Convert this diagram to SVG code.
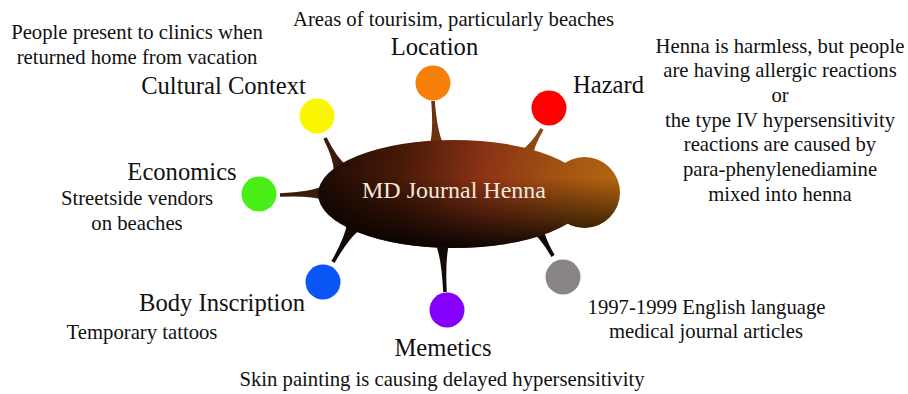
<svg xmlns="http://www.w3.org/2000/svg" width="908" height="394" viewBox="0 0 908 394">
  <defs>
    <linearGradient id="bodyH" gradientUnits="userSpaceOnUse" x1="318" y1="0" x2="622" y2="0">
      <stop offset="0" stop-color="#1c0a04"/>
      <stop offset="0.28" stop-color="#4a1a08"/>
      <stop offset="0.55" stop-color="#8e3416"/>
      <stop offset="0.78" stop-color="#a35212"/>
      <stop offset="1" stop-color="#b4680e"/>
    </linearGradient>
    <linearGradient id="bodyV" gradientUnits="userSpaceOnUse" x1="0" y1="140" x2="0" y2="248">
      <stop offset="0" stop-color="#000" stop-opacity="0.05"/>
      <stop offset="0.35" stop-color="#000" stop-opacity="0"/>
      <stop offset="1" stop-color="#000" stop-opacity="0.9"/>
    </linearGradient>
    <path id="bodyShape" d="M318,194 A136,54 0 1,0 590,194 A136,54 0 1,0 318,194 Z M549,192.5 A35.5,35.5 0 1,0 620,192.5 A35.5,35.5 0 1,0 549,192.5 Z"/>
    <style>
      text { font-family: "Liberation Serif", "Times New Roman", serif; fill: #111; }
      .lbl { font-size: 24.6px; }
      .sm { font-size: 20.7px; }
      .mid { text-anchor: middle; }
      .spk-dk { fill: #120a06; }
    </style>
  </defs>

  <g id="connectors">
    <path style="fill:#6b3212" d="M431.2,101.1 Q433.7,131.9 429.5,145.6 L443.5,144.4 Q437.2,131.7 434.8,100.9Z"/>
    <path style="fill:#3d1a08" d="M323.4,138.8 Q333.9,159.8 333.7,171.1 L346.3,164.9 Q337.1,158.2 326.6,137.2Z"/>
    <path style="fill:#8a4a12" d="M540.5,128.1 Q530,145.6 521,150.4 L533,157.6 Q533,147.4 543.5,129.9Z"/>
    <path style="fill:#3a1c0a" d="M280.1,196.8 Q310.9,195.4 324.3,200 L323.7,186 Q310.7,191.8 279.9,193.2Z"/>
    <path class="spk-dk" d="M334.6,262.9 Q348.6,238.4 359.1,230.5 L346.9,223.5 Q345.4,236.6 331.4,261.1Z"/>
    <path class="spk-dk" d="M446.8,291.9 Q445,257.6 449.5,242.6 L435.5,243.4 Q441.5,257.8 443.2,292.1Z"/>
    <path class="spk-dk" d="M554.6,255.1 Q543.4,235.5 543.1,224.5 L530.9,231.5 Q540.2,237.3 551.4,256.9Z"/>
  </g>

  <g id="center">
    <use href="#bodyShape" fill="url(#bodyH)"/>
    <use href="#bodyShape" fill="url(#bodyV)"/>
    <text class="mid" x="454" y="198" style="fill:#f2e8de;font-size:24px">MD Journal Henna</text>
  </g>

  <g id="location">
    <circle cx="433" cy="83" r="17.5" fill="#f7800a"/>
    <text class="lbl mid" x="434.5" y="55">Location</text>
    <text class="sm mid" x="453.5" y="26">Areas of tourisim, particularly beaches</text>
  </g>

  <g id="hazard">
    <circle cx="549" cy="108" r="17.5" fill="#ff0000"/>
    <text class="lbl" x="573" y="93">Hazard</text>
    <text class="sm mid" x="780" y="52.7">Henna is harmless, but people</text>
    <text class="sm mid" x="780" y="77.3">are having allergic reactions</text>
    <text class="sm mid" x="780" y="102">or</text>
    <text class="sm mid" x="780" y="126.7">the type IV hypersensitivity</text>
    <text class="sm mid" x="780" y="151.3">reactions are caused by</text>
    <text class="sm mid" x="780" y="176">para-phenylenediamine</text>
    <text class="sm mid" x="780" y="200.7">mixed into henna</text>
  </g>

  <g id="cultural-context">
    <circle cx="317" cy="116" r="17.5" fill="#faf600"/>
    <text class="lbl mid" x="223.5" y="94">Cultural Context</text>
    <text class="sm mid" x="137" y="39.3">People present to clinics when</text>
    <text class="sm mid" x="137" y="64">returned home from vacation</text>
  </g>

  <g id="economics">
    <circle cx="259" cy="194" r="17.5" fill="#48ee16"/>
    <text class="lbl mid" x="182" y="180">Economics</text>
    <text class="sm mid" x="137" y="205">Streetside vendors</text>
    <text class="sm mid" x="137" y="230">on beaches</text>
  </g>

  <g id="body-inscription">
    <circle cx="323" cy="282" r="17.5" fill="#0a55f5"/>
    <text class="lbl mid" x="222" y="310.7">Body Inscription</text>
    <text class="sm mid" x="142" y="339">Temporary tattoos</text>
  </g>

  <g id="memetics">
    <circle cx="447" cy="310" r="17.5" fill="#8400fa"/>
    <text class="lbl mid" x="443" y="356">Memetics</text>
    <text class="sm mid" x="442" y="386">Skin painting is causing delayed hypersensitivity</text>
  </g>

  <g id="sources">
    <circle cx="563" cy="277" r="17.5" fill="#898585"/>
    <text class="sm mid" x="706.5" y="314">1997-1999 English language</text>
    <text class="sm mid" x="706" y="338">medical journal articles</text>
  </g>
</svg>
